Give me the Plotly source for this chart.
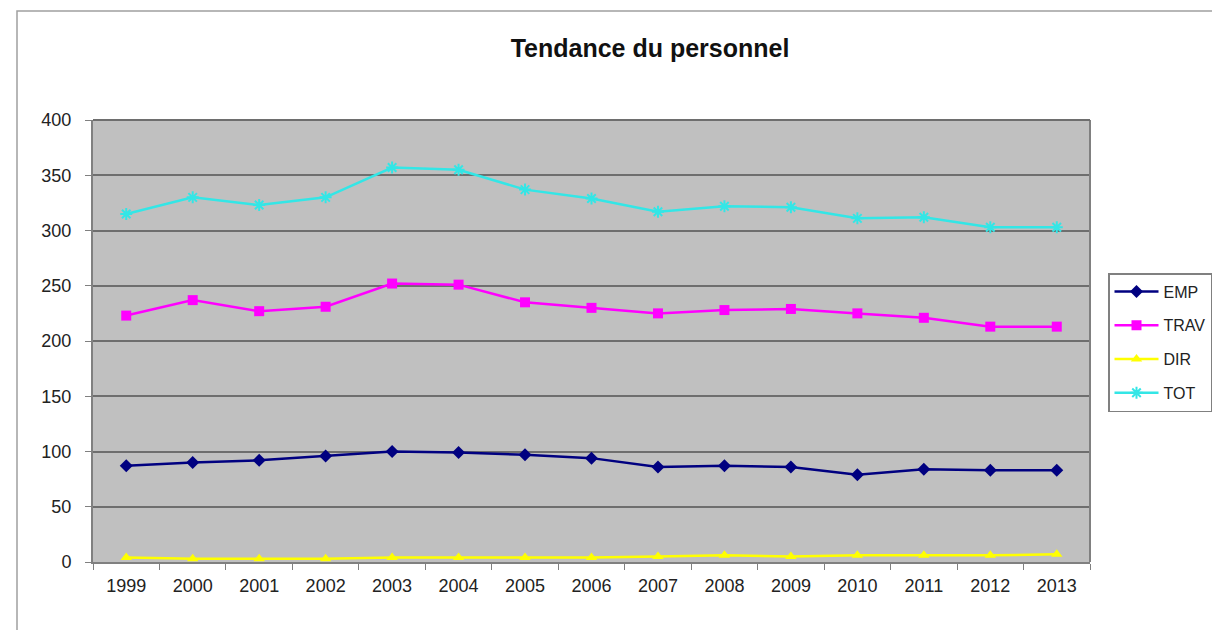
import plotly.graph_objects as go

years = ["1999", "2000", "2001", "2002", "2003", "2004", "2005", "2006",
         "2007", "2008", "2009", "2010", "2011", "2012", "2013"]
emp = [87, 90, 92, 96, 100, 99, 97, 94, 86, 87, 86, 79, 84, 83, 83]
trav = [223, 237, 227, 231, 252, 251, 235, 230, 225, 228, 229, 225, 221, 213, 213]
dir_ = [4, 3, 3, 3, 4, 4, 4, 4, 5, 6, 5, 6, 6, 6, 7]
tot = [315, 330, 323, 330, 357, 355, 337, 329, 317, 322, 321, 311, 312, 303, 303]
y_ticks = [0, 50, 100, 150, 200, 250, 300, 350, 400]

# page has an 8px body margin; figure coordinates = screen - 8
OFF = 8
W, H = 1220 - OFF, 630 - OFF
L, T = 93 - OFF, 120 - OFF
PR, PB = 1090 - OFF, 562 - OFF
R, B = W - PR, H - PB
pw, ph = PR - L, PB - T

fig = go.Figure()
series = [
    ("EMP", emp, "#000080", dict(symbol="diamond", size=10)),
    ("TRAV", trav, "#FF00FF", dict(symbol="square", size=10)),
    ("DIR", dir_, "#FFFF00", dict(symbol="triangle-up", size=10)),
    ("TOT", tot, "#33E6E6", dict(symbol="asterisk-open", size=10,
                                  line=dict(width=2, color="#33E6E6"))),
]
for name, vals, col, mk in series:
    fig.add_trace(go.Scatter(
        x=years, y=vals, name=name, mode="lines+markers",
        line=dict(color=col, width=2.5),
        marker=dict(color=col, **mk),
        legendgroup=name,
    ))

fig.update_layout(
    width=W, height=H,
    margin=dict(l=L, r=R, t=T, b=B, autoexpand=False),
    paper_bgcolor="white",
    plot_bgcolor="#C0C0C0",
    font=dict(family="Liberation Sans, Arial, sans-serif", size=18, color="#222222"),
    title=dict(text="<b>Tendance du personnel</b>", x=(650 - OFF) / W, xanchor="center",
               y=1 - (48 - OFF) / H, yanchor="middle",
               font=dict(size=25, color="#111111")),
    showlegend=True,
    legend=dict(x=(1108 - OFF - L) / pw, y=1 - (273 - OFF - T) / ph,
                xanchor="left", yanchor="top",
                bgcolor="white", bordercolor="#808080", borderwidth=1.5,
                font=dict(size=16, color="#222222"), tracegroupgap=10,
                traceorder="grouped", itemwidth=44),
    xaxis=dict(
        type="category", tickson="boundaries", ticks="outside", ticklen=6,
        tickcolor="#808080", showline=True, linecolor="#808080", linewidth=2,
        showgrid=False, mirror=False, tickfont=dict(size=18),
        ticklabelstandoff=6,
        range=[-0.5, len(years) - 0.5], fixedrange=True,
    ),
    yaxis=dict(
        range=[0, 400], tickvals=y_ticks, ticks="outside", ticklen=6,
        tickcolor="#808080", showline=True, linecolor="#808080", linewidth=2,
        showgrid=True, gridcolor="#6E6E6E", gridwidth=2, zeroline=False,
        tickfont=dict(size=18), ticklabelstandoff=10, fixedrange=True,
    ),
    shapes=[
        dict(type="rect", xref="paper", yref="paper",
             x0=(17 - OFF - L) / pw, x1=(W + 5 - L) / pw,
             y0=-(H + 5 - PB) / ph, y1=1 + (T - (11 - OFF)) / ph,
             line=dict(color="#A0A0A0", width=1.5), layer="below"),
        dict(type="line", xref="paper", yref="paper", x0=1, x1=1, y0=0, y1=1,
             line=dict(color="#808080", width=2)),
        dict(type="line", xref="paper", yref="paper", x0=0, x1=1, y0=1, y1=1,
             line=dict(color="#6E6E6E", width=2)),
    ],
)

fig.write_html("out.html")
